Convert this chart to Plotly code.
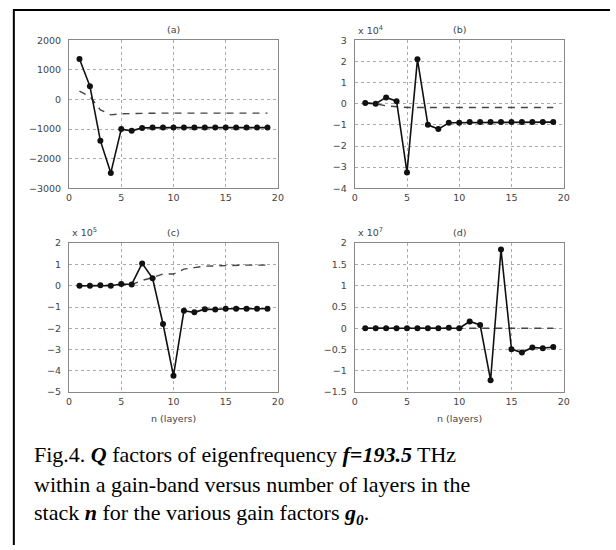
import plotly.graph_objects as go

W, H = 616, 550

n_layers = list(range(1, 20))

# (a) Q factor, plain units
qa_solid = [1370, 450, -1390, -2480, -1000, -1060, -960, -950, -950, -950,
            -950, -950, -950, -950, -950, -950, -950, -950, -950]
qa_dash = [280, 100, -350, -520, -480, -470, -465, -460, -460, -460,
           -460, -460, -460, -460, -460, -460, -460, -460, -460]

# (b) Q factor, x 10^4
qb_solid = [0.03, 0.0, 0.3, 0.12, -3.25, 2.1, -1.0, -1.2, -0.9, -0.9,
            -0.87, -0.87, -0.87, -0.87, -0.87, -0.87, -0.87, -0.87, -0.87]
qb_dash = [0.05, 0.0, -0.1, -0.15, -0.18, -0.18, -0.18, -0.18, -0.18, -0.18,
           -0.18, -0.18, -0.18, -0.18, -0.18, -0.18, -0.18, -0.18, -0.18]

# (c) Q factor, x 10^5
qc_solid = [0.0, 0.0, 0.02, 0.0, 0.08, 0.06, 1.05, 0.35, -1.8, -4.23,
            -1.18, -1.25, -1.1, -1.12, -1.08, -1.08, -1.08, -1.08, -1.08]
qc_dash = [0.0, 0.0, 0.0, 0.0, 0.03, 0.05, 0.25, 0.38, 0.55, 0.55,
           0.78, 0.85, 0.92, 0.93, 0.95, 0.96, 0.97, 0.97, 0.97]

# (d) Q factor, x 10^7
qd_solid = [0.0, 0.0, 0.0, 0.0, 0.0, 0.0, 0.0, 0.0, 0.01, 0.0,
            0.16, 0.08, -1.22, 1.85, -0.49, -0.57, -0.45, -0.47, -0.44]
qd_dash = [0.0] * 19

panel_titles = ["(a)", "(b)", "(c)", "(d)"]
exp_labels = ["", "x 10<sup>4</sup>", "x 10<sup>5</sup>", "x 10<sup>7</sup>"]
y_ranges = [(-3000, 2000), (-4, 3), (-5, 2), (-1.5, 2)]
y_dticks = [1000, 1, 1, 0.5]
x_ticks = [0, 5, 10, 15, 20]
x_label = "n (layers)"

# pixel boxes of the four plot areas (left, right, top, bottom)
boxes = [(67, 279, 35, 186), (357, 569, 35, 186),
         (67, 279, 242, 394), (357, 569, 242, 394)]

solids = [qa_solid, qb_solid, qc_solid, qd_solid]
dashes = [qa_dash, qb_dash, qc_dash, qd_dash]

fig = go.Figure()
small = dict(family="DejaVu Sans, Liberation Sans, Arial", size=9.5, color="#444")
layout = {}
annotations = []

for i in range(4):
    l, r, t, b = boxes[i]
    xa = "xaxis" if i == 0 else f"xaxis{i+1}"
    ya = "yaxis" if i == 0 else f"yaxis{i+1}"
    xr = "x" if i == 0 else f"x{i+1}"
    yr = "y" if i == 0 else f"y{i+1}"
    layout[xa] = dict(domain=[l / W, r / W], range=[0, 20], tickvals=x_ticks,
                      showgrid=True, gridcolor="#aaa", griddash="dot", gridwidth=1,
                      showline=True, linecolor="#888", linewidth=1, mirror=True,
                      zeroline=False, ticks="", tickfont=small, anchor=yr,
                      ticklabelstandoff=0, fixedrange=True)
    layout[ya] = dict(domain=[1 - b / H, 1 - t / H], range=list(y_ranges[i]),
                      dtick=y_dticks[i], tick0=0,
                      showgrid=True, gridcolor="#aaa", griddash="dot", gridwidth=1,
                      showline=True, linecolor="#888", linewidth=1, mirror=True,
                      zeroline=False, ticks="", tickfont=small, anchor=xr,
                      ticklabelstandoff=5, fixedrange=True)
    fig.add_trace(go.Scatter(x=n_layers, y=dashes[i], mode="lines",
                             line=dict(color="#444", width=1.4, dash="7px,6px"),
                             xaxis=xr, yaxis=yr, showlegend=False, hoverinfo="skip"))
    fig.add_trace(go.Scatter(x=n_layers, y=solids[i], mode="lines+markers",
                             line=dict(color="#111", width=1.6),
                             marker=dict(color="#111", size=6, symbol="circle"),
                             xaxis=xr, yaxis=yr, showlegend=False, hoverinfo="skip"))
    annotations.append(dict(text=panel_titles[i], x=(l + r) / 2 / W, y=1 - (t - 11) / H,
                            xref="paper", yref="paper", showarrow=False, font=small,
                            xanchor="center", yanchor="middle"))
    if exp_labels[i]:
        annotations.append(dict(text=exp_labels[i], x=(l + 1) / W, y=1 - (t - 11) / H,
                                xref="paper", yref="paper", showarrow=False, font=small,
                                xanchor="left", yanchor="middle"))
    if i >= 2:
        annotations.append(dict(text=x_label, x=(l + r) / 2 / W, y=1 - 421 / H,
                                xref="paper", yref="paper", showarrow=False, font=small,
                                xanchor="center", yanchor="middle"))

caption_lines = [
    "Fig.4. <b><i>Q</i></b> factors of eigenfrequency <b><i>f=193.5</i></b> THz",
    "within a gain-band versus number of layers in the",
    "stack <b><i>n</i></b> for the various gain factors <b><i>g<sub>0</sub></i></b>.",
]
cap_y = [458, 488, 518]
for txt, yy in zip(caption_lines, cap_y):
    annotations.append(dict(text=txt, x=29 / W, y=1 - yy / H, xref="paper", yref="paper",
                            showarrow=False, xanchor="left", yanchor="middle",
                            font=dict(family="Liberation Serif, Times New Roman, serif",
                                      size=22, color="#000")))

shapes = [dict(type="path", xref="paper", yref="paper",
               path=f"M {11/W},0 L {11/W},{1-4/H} L 1,{1-4/H}",
               line=dict(color="#000", width=2))]

fig.update_layout(width=W, height=H, autosize=False,
                  margin=dict(l=0, r=0, t=0, b=0),
                  paper_bgcolor="white", plot_bgcolor="white",
                  annotations=annotations, shapes=shapes, **layout)

fig.write_html("out.html", config={"displayModeBar": False, "staticPlot": True},
               post_script="document.body.style.margin='0';document.body.style.padding='0';")
